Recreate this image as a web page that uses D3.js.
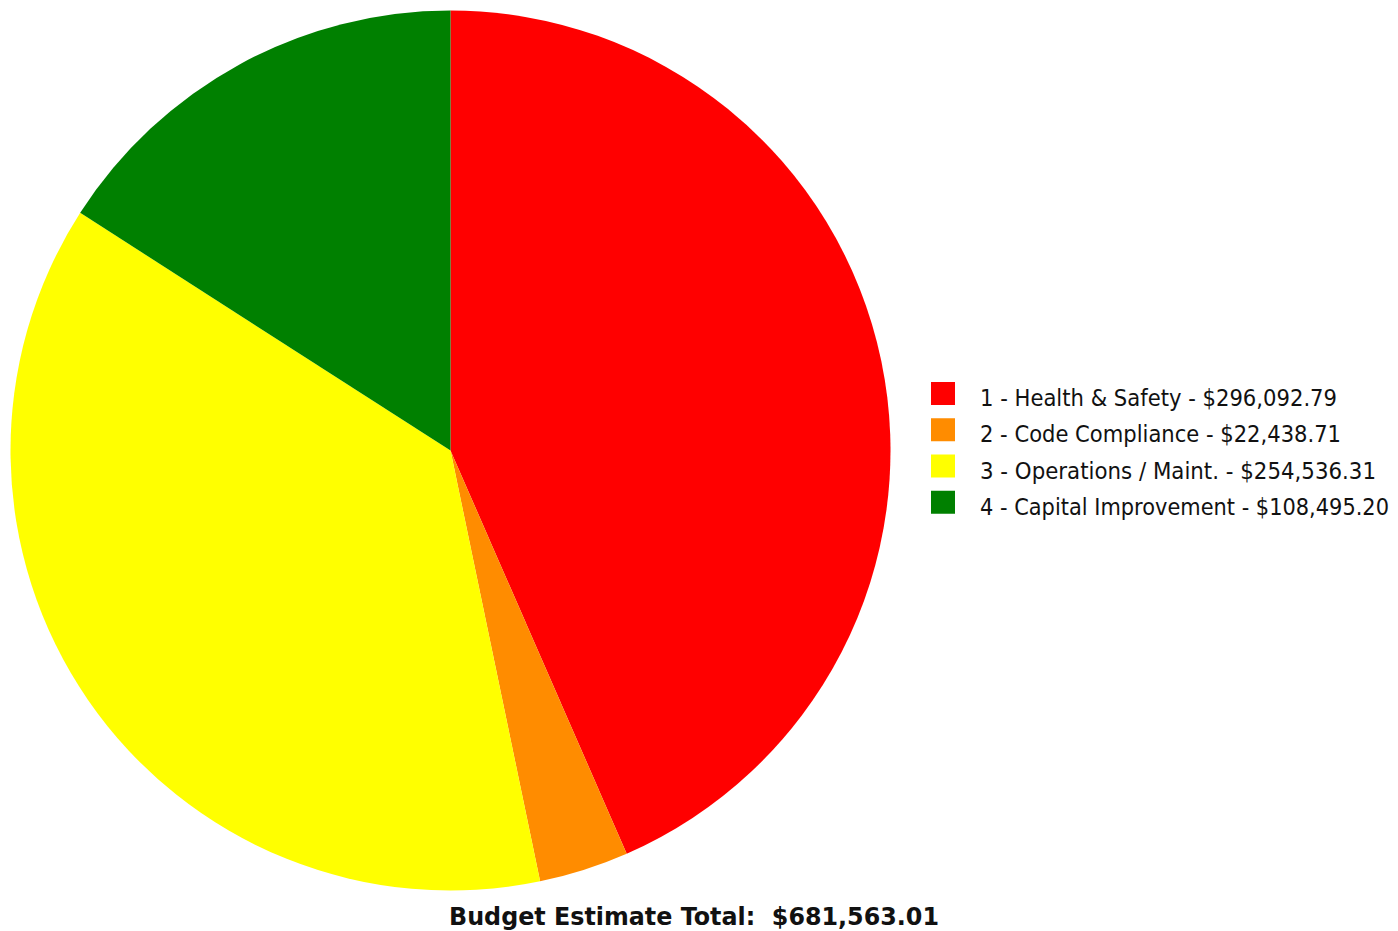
<!DOCTYPE html>
<html>
<head>
<meta charset="utf-8">
<script src="https://cdn.jsdelivr.net/npm/d3@7"></script>
<style>
  body { margin: 0; background: #fff; }
  svg { display: block; }
  text { white-space: pre; }
</style>
</head>
<body>
<svg width="1398" height="931"></svg>
<script>
const categories = ["1 - Health & Safety", "2 - Code Compliance", "3 - Operations / Maint.", "4 - Capital Improvement"];
const amounts = [296092.79, 22438.71, 254536.31, 108495.20];
const colors = ["#FF0000", "#FF8C00", "#FFFF00", "#008000"];
const totalLabel = "Budget Estimate Total:  $681,563.01";

const svg = d3.select("svg");
const money = d3.format("$,.2f");

const data = categories.map((c, i) => ({ name: c, value: amounts[i], color: colors[i] }));

// pie, clockwise from 12 o'clock
const pie = d3.pie().sort(null).value(d => d.value);
const arc = d3.arc().innerRadius(0).outerRadius(440);

svg.append("g")
    .attr("transform", "translate(450.5,450.5)")
    .selectAll("path")
    .data(pie(data))
    .enter().append("path")
    .attr("d", arc)
    .attr("fill", d => d.data.color);

// legend
const y = d3.scaleBand().domain(categories).range([375, 520]).paddingInner(0);
const legend = svg.append("g").selectAll("g")
    .data(data)
    .enter().append("g")
    .attr("transform", d => "translate(931," + y(d.name) + ")");

legend.append("rect")
    .attr("y", 7)
    .attr("width", 24)
    .attr("height", 23)
    .attr("fill", d => d.color);

const widths = [357, 361, 396, 409];
legend.append("text")
    .attr("x", 49)
    .attr("y", 31)
    .attr("font-family", "DejaVu Sans")
    .attr("font-size", 22.5)
    .attr("fill", "#111")
    .attr("textLength", (d, i) => widths[i])
    .attr("lengthAdjust", "spacingAndGlyphs")
    .text(d => d.name + " - " + money(d.value));

svg.append("text")
    .attr("x", 449)
    .attr("y", 925)
    .attr("font-family", "DejaVu Sans")
    .attr("font-weight", "bold")
    .attr("font-size", 25)
    .attr("fill", "#111")
    .attr("textLength", 490)
    .attr("lengthAdjust", "spacingAndGlyphs")
    .text(totalLabel);
</script>
</body>
</html>
